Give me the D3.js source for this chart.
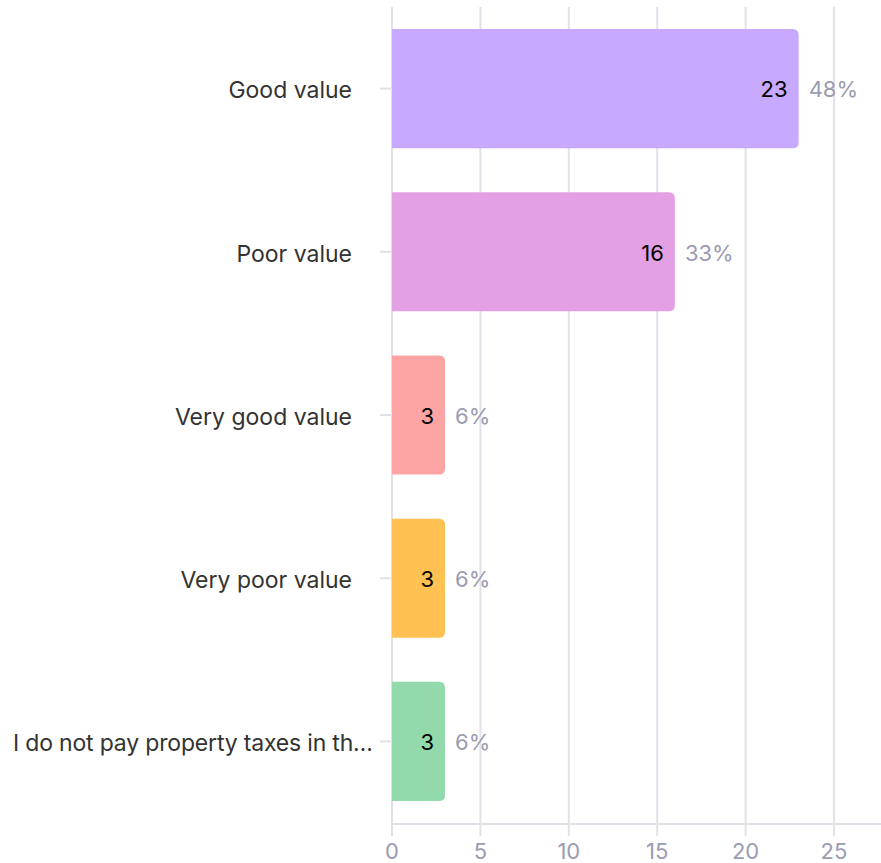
<!DOCTYPE html>
<html lang="en">
<head>
<meta charset="UTF-8">
<title>Property tax value</title>
<script src="https://d3js.org/d3.v7.min.js"></script>
<style>
  body { margin: 0; background: #fff; }
  svg { display: block; font-family: Inter, "Noto Sans", sans-serif; }
</style>
</head>
<body>
<svg id="chart" width="881" height="863"></svg>
<script>
const categories = ["Good value", "Poor value", "Very good value", "Very poor value", "I do not pay property taxes in th…"];
const counts = [23, 16, 3, 3, 3];
const percents = ["48%", "33%", "6%", "6%", "6%"];
const colors = ["#c7a9ff", "#e3a1e3", "#fca3a3", "#ffc152", "#92d9ab"];
const xTicks = [0, 5, 10, 15, 20, 25];

const svg = d3.select("#chart");
const gridColor = "#e1e1ea";
const left = 392;

const x = d3.scaleLinear().domain([0, 25]).range([left, 834]);
const y = d3.scaleBand().domain(categories).range([7, 823]).paddingInner(0.27).paddingOuter(0.135);
const mid = d => y(d) + y.bandwidth() / 2;

// vertical gridlines + ticks
svg.append("g").selectAll("line").data(xTicks).join("line")
  .attr("x1", d => x(d)).attr("x2", d => x(d))
  .attr("y1", 7).attr("y2", 836)
  .attr("stroke", gridColor).attr("stroke-width", 2);

// x axis line
svg.append("line")
  .attr("x1", left).attr("x2", 881).attr("y1", 824).attr("y2", 824)
  .attr("stroke", gridColor).attr("stroke-width", 2);

// x tick labels
svg.append("g").selectAll("text").data(xTicks).join("text")
  .attr("x", d => x(d)).attr("y", 859)
  .attr("text-anchor", "middle")
  .attr("font-size", 22).attr("fill", "#9b9bb1")
  .text(d => d);

// y tick marks
svg.append("g").selectAll("line").data(categories).join("line")
  .attr("x1", 380).attr("x2", left)
  .attr("y1", mid).attr("y2", mid)
  .attr("stroke", gridColor).attr("stroke-width", 2);

// category labels (the truncated one runs further right)
const labels = svg.append("g").selectAll("text").data(categories).join("text")
  .attr("x", d => d.endsWith("…") ? 373 : 352).attr("y", mid)
  .attr("dy", "0.43em").attr("text-anchor", "end")
  .attr("font-size", 23).attr("fill", "#333333")
  .text(d => d);
labels.filter(d => d.endsWith("…"))
  .attr("textLength", 360).attr("lengthAdjust", "spacing");

// bars: rounded right corners only
const r = 6;
function barPath(x0, x1, y0, h) {
  return `M${x0},${y0} H${x1 - r} Q${x1},${y0} ${x1},${y0 + r} V${y0 + h - r} Q${x1},${y0 + h} ${x1 - r},${y0 + h} H${x0} Z`;
}

const rows = categories.map((c, i) => ({ cat: c, v: counts[i], p: percents[i], col: colors[i] }));

svg.append("g").selectAll("path").data(rows).join("path")
  .attr("d", d => barPath(x(0), x(d.v), y(d.cat), y.bandwidth()))
  .attr("fill", d => d.col);

// count labels inside bar
svg.append("g").selectAll("text").data(rows).join("text")
  .attr("x", d => x(d.v) - 11).attr("y", d => mid(d.cat))
  .attr("dy", "0.4em").attr("text-anchor", "end")
  .attr("font-size", 22).attr("fill", "#000")
  .text(d => d.v);

// percentage labels
svg.append("g").selectAll("text").data(rows).join("text")
  .attr("x", d => x(d.v) + 10).attr("y", d => mid(d.cat))
  .attr("dy", "0.4em")
  .attr("font-size", 22).attr("fill", "#9b9bb1")
  .text(d => d.p);
</script>
</body>
</html>
